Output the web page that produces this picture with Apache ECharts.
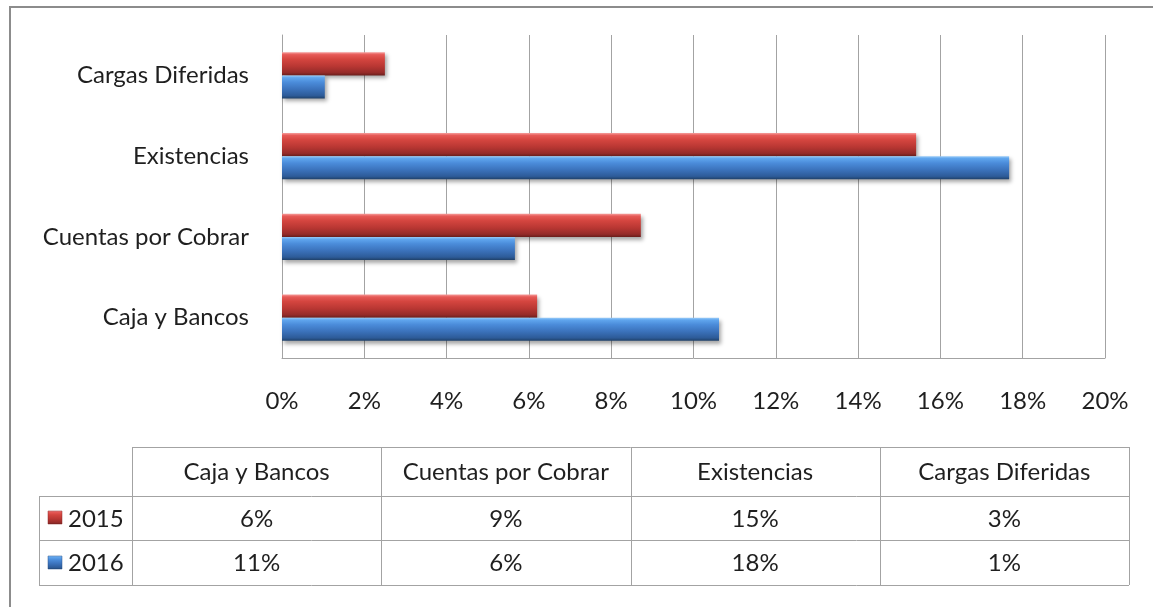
<!DOCTYPE html>
<html>
<head>
<meta charset="utf-8">
<script src="https://cdn.jsdelivr.net/npm/echarts@6/dist/echarts.min.js"></script>
<style>
  html, body { margin: 0; padding: 0; background: #ffffff; }
  #chart { width: 1153px; height: 607px; }
</style>
</head>
<body>
<div id="chart"></div>
<script>
// Activo corriente: participación por rubro (%)
const categories = ['Caja y Bancos', 'Cuentas por Cobrar', 'Existencias', 'Cargas Diferidas'];
const seriesNames = ['2015', '2016'];
const values2015 = [6.2, 8.72, 15.41, 2.5];
const values2016 = [10.62, 5.66, 17.67, 1.04];

const FONT = 'Lato, "Open Sans", sans-serif';
const FONT_SIZE = 24;
const TEXT = '#1f1f1f';
const GRID_LINE = '#a3a3a3';

function barGradient(stops) {
  return new echarts.graphic.LinearGradient(0, 0, 0, 1,
    stops.map((c) => ({ offset: c[0], color: c[1] })));
}
const redFill = () => barGradient([
  [0, '#f59a98'], [0.1, '#e65a57'], [0.3, '#d4453f'],
  [0.6, '#b93733'], [0.88, '#952b29'], [1, '#6b1e1c']
]);
const blueFill = () => barGradient([
  [0, '#9ccdf9'], [0.1, '#60a6ee'], [0.3, '#4b8cda'],
  [0.6, '#3b72bb'], [0.88, '#2d5b98'], [1, '#20426b']
]);
const fills = [redFill, blueFill];

const chart = echarts.init(document.getElementById('chart'), null, { renderer: 'canvas' });

// Data table under the chart
const tbl = {
  left: 39, firstCol: 132, colW: 249.25,
  top: 447, rowBottoms: [496, 540, 585]
};
const tableRight = tbl.firstCol + tbl.colW * categories.length;
const graphics = [];
const lineStyle = { stroke: GRID_LINE, lineWidth: 1 };
function hLine(x1, x2, y) {
  graphics.push({ type: 'line', silent: true, shape: { x1, y1: y + 0.5, x2, y2: y + 0.5 }, style: lineStyle });
}
function vLine(x, y1, y2) {
  x = Math.round(x);
  graphics.push({ type: 'line', silent: true, shape: { x1: x + 0.5, y1, x2: x + 0.5, y2 }, style: lineStyle });
}
hLine(tbl.firstCol, tableRight, tbl.top);
hLine(tbl.left, tableRight, tbl.rowBottoms[0]);
hLine(tbl.left, tableRight, tbl.rowBottoms[1]);
hLine(tbl.left, tableRight, tbl.rowBottoms[2]);
vLine(tbl.left, tbl.rowBottoms[0], tbl.rowBottoms[2]);
for (let i = 0; i <= categories.length; i++) {
  vLine(tbl.firstCol + tbl.colW * i, tbl.top, tbl.rowBottoms[2]);
}
function cellText(x, y, text, align) {
  graphics.push({
    type: 'text', silent: true, x, y,
    style: { text, fill: TEXT, font: FONT_SIZE + 'px ' + FONT, align: align || 'center', verticalAlign: 'middle' }
  });
}
const headerY = (tbl.top + tbl.rowBottoms[0]) / 2 + 1;
categories.forEach((c, i) => cellText(tbl.firstCol + tbl.colW * (i + 0.5), headerY, c));
const rowsData = [values2015, values2016];
rowsData.forEach((vals, r) => {
  const yc = (tbl.rowBottoms[r] + tbl.rowBottoms[r + 1]) / 2 + 1;
  graphics.push({
    type: 'rect', silent: true,
    shape: { x: 48, y: Math.round(yc) - 8, width: 14, height: 13 },
    style: { fill: fills[r](), stroke: r === 0 ? '#8e2a28' : '#2a5288', lineWidth: 0.5 }
  });
  cellText(68, yc, seriesNames[r], 'left');
  vals.forEach((v, i) => cellText(tbl.firstCol + tbl.colW * (i + 0.5), yc, Math.round(v) + '%'));
});
// outer frame
graphics.push({
  type: 'rect', silent: true,
  shape: { x: 10, y: 7, width: 1170, height: 640 },
  style: { fill: null, stroke: '#8c8c8c', lineWidth: 2 }
});

const barSeries = [values2015, values2016].map((vals, i) => ({
  name: seriesNames[i],
  type: 'bar',
  data: vals,
  barGap: '0%',
  barCategoryGap: '43%',
  itemStyle: {
    color: fills[i](),
    shadowColor: 'rgba(0,0,0,0.35)',
    shadowBlur: 4,
    shadowOffsetX: 2,
    shadowOffsetY: 3
  },
  animation: false
}));

chart.setOption({
  animation: false,
  backgroundColor: '#ffffff',
  grid: { left: 282, top: 35, width: 823, height: 323, containLabel: false },
  xAxis: {
    type: 'value',
    min: 0, max: 20, interval: 2,
    axisLine: { show: true, lineStyle: { color: GRID_LINE, width: 1 } },
    axisTick: { show: false },
    splitLine: { show: true, lineStyle: { color: GRID_LINE, width: 1 } },
    axisLabel: {
      formatter: '{value}%', color: TEXT, fontFamily: FONT, fontSize: FONT_SIZE, margin: 31
    }
  },
  yAxis: {
    type: 'category',
    data: categories,
    axisLine: { show: true, lineStyle: { color: GRID_LINE, width: 1 } },
    axisTick: { show: false },
    axisLabel: { color: TEXT, fontFamily: FONT, fontSize: FONT_SIZE, margin: 33 }
  },
  series: barSeries,
  graphic: { elements: graphics }
});
</script>
</body>
</html>
